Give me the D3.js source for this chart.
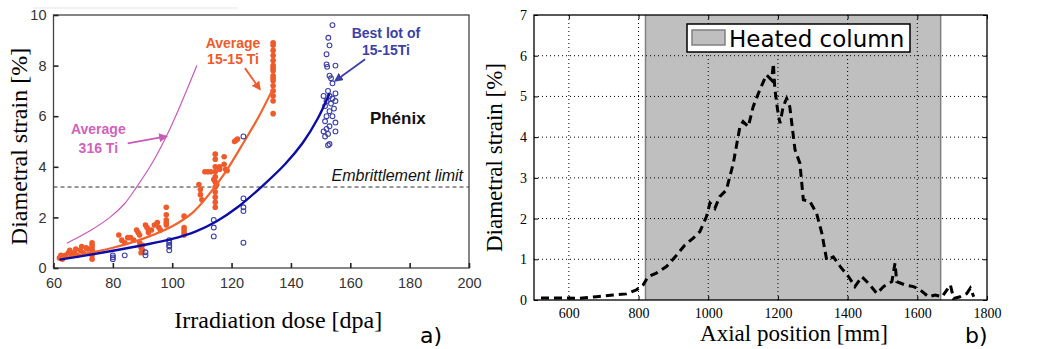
<html>
<head>
<script src="https://d3js.org/d3.v7.min.js"></script>
<style>
body { margin:0; background:#fff; }
</style>
</head>
<body>
<svg id="fig" width="1046" height="349"></svg>
<script>
/// ---- panel a) data ----
var doseTicks = [60, 80, 100, 120, 140, 160, 180, 200];
var strainTicksA = [0, 2, 4, 6, 8, 10];

var avg316 = [[64.5, 0.98], [72, 1.45], [79, 2.0], [84, 2.55], [88, 3.2], [93, 4.1], [98, 5.2], [103, 6.5], [108.3, 8.0]];
var avg1515 = [[62, 0.38], [70, 0.55], [80, 0.8], [90, 1.15], [100, 1.65], [107, 2.2], [113, 3.0], [118, 3.8], [124, 4.95], [129, 5.95], [134, 7.1]];
var best1515 = [[62, 0.33], [70, 0.48], [80, 0.68], [90, 0.9], [100, 1.15], [108, 1.45], [115, 1.85], [122, 2.4], [130, 3.2], [138, 4.1], [144, 4.95], [149, 5.9], [153, 6.9]];
var embrittlement = 3.2;

var orangeDots = [
 [62,0.4],[62.5,0.5],[63,0.35],[64,0.5],[65,0.6],[65.5,0.7],[66,0.55],[67,0.6],[67.5,0.75],[68,0.5],
 [69,0.7],[69.5,0.85],[70,0.6],[71,0.8],[71.5,0.75],[73,1.0],[73,0.9],[73,0.7],[73,0.5],[73,0.35],[73,0.8],
 [82,1.3],[83,1.1],[84,1.0],[85,1.2],[86,1.2],[87,1.1],[88,1.5],[88.5,1.4],[89,1.3],[89,1.0],[89.5,0.8],
 [89.5,0.6],[90,0.7],[90,0.9],[91,1.7],[91.5,1.6],[92,1.5],[92,1.4],[93,1.5],[94,1.7],[95,1.8],[95.5,1.6],
 [96,1.5],[98,2.4],[98,2.1],[98,1.9],[98,1.8],[98,1.7],[104,2.05],[104,1.6],[104,1.5],[104,1.4],[104,1.3],
 [109,3.3],[109.5,3.1],[109.5,2.9],[110,2.7],[111,3.8],[112,3.8],[113,3.8],[114.5,4.5],[114.5,4.3],
 [114.5,4.0],[114.5,3.8],[114.5,3.6],[114.5,3.4],[114.5,3.2],[114.5,3.0],[114.5,2.8],[114.5,2.6],
 [114.5,2.4],[114,3.5],[115,3.3],[116,4.0],[116,3.9],[117.5,4.4],[117.5,4.1],[118,3.9],[118.5,3.85],
 [121,5.0],[121.5,5.05],[122,5.1],
 [134,8.9],[134,8.8],[134,8.6],[134,8.4],[134,8.2],[134,8.0],[134,7.9],[134,7.8],[134,7.6],[134,7.5],
 [134,7.4],[134,7.2],[134,7.0],[134,6.8],[134,6.6],[134,6.1]
];
var blueCircles = [
 [80,0.35],[80,0.5],[80,0.42],[84,0.5],[91,0.5],[91,0.62],[99,0.7],[99,0.85],[99,1.0],[99,1.1],[99,0.9],
 [114,1.9],[114,1.6],[114,1.25],[124,5.2],[124,2.75],[124,2.4],[124,2.25],[124,1.0],
 [154,9.6],[152.6,9.1],[153,8.8],[152,8.45],[152,8.05],[152.2,7.95],[155,8.0],[153,7.6],[153.5,7.5],
 [154,7.3],[152.5,7.0],[153,6.8],[154,6.7],[152,6.6],[155,6.6],[153.5,6.5],[151.5,6.4],[154.5,6.3],
 [153,6.2],[152,6.0],[155,5.75],[151.5,5.8],[153,5.6],[152,5.5],[151,5.4],[155,5.4],[152.5,5.3],
 [151.5,5.2],[153,4.9],[152.5,4.85],[154,6.0],[151,6.8],[155,6.9]
];

/// ---- panel b) data ----
var axialTicks = [600, 800, 1000, 1200, 1400, 1600, 1800];
var strainTicksB = [0, 1, 2, 3, 4, 5, 6, 7];
var heatedColumn = [820, 1667];
var profile = [
 [520,0.05],[583,0.05],[631,0.04],[679,0.08],[727,0.12],[765,0.15],[794,0.25],[813,0.37],[827,0.57],
 [851,0.66],[880,0.82],[909,1.1],[933,1.35],[957,1.52],[976,1.68],[995,2.05],[1005,2.38],[1019,2.25],
 [1033,2.54],[1052,2.7],[1072,3.36],[1091,4.26],[1100,4.38],[1115,4.26],[1129,4.75],[1148,5.16],
 [1167,5.53],[1182,5.4],[1187,5.81],[1191,5.2],[1199,4.67],[1206,4.34],[1215,4.75],[1225,4.95],
 [1234,4.75],[1249,3.69],[1263,3.36],[1273,2.46],[1292,2.42],[1311,2.13],[1326,1.64],[1340,0.98],
 [1359,1.06],[1379,0.82],[1403,0.57],[1421,0.33],[1441,0.57],[1460,0.41],[1484,0.16],[1503,0.33],
 [1527,0.45],[1536,0.9],[1541,0.45],[1565,0.37],[1589,0.33],[1608,0.25],[1632,0.08],[1651,0.12],
 [1671,0.08],[1685,0.25],[1695,0.37],[1704,0.04],[1723,0.08],[1742,0.16],[1752,0.29],[1762,0.08]
];

var svg = d3.select("#fig");
var sans = "'Liberation Sans', Arial, sans-serif";
var serif = "'Liberation Serif', 'Times New Roman', serif";

/// ================= PANEL A =================
var xa = d3.scaleLinear().domain([60, 200]).range([53.5, 469]);
var ya = d3.scaleLinear().domain([0, 10]).range([268, 15]);
var ga = svg.append("g");

// faint crop line at top
ga.append("line").attr("x1", 33).attr("x2", 238).attr("y1", 8).attr("y2", 8)
  .attr("stroke", "#eee").attr("stroke-width", 1.5);

// embrittlement limit
ga.append("line")
  .attr("x1", xa(60)).attr("x2", xa(200))
  .attr("y1", ya(embrittlement)).attr("y2", ya(embrittlement))
  .attr("stroke", "#333").attr("stroke-width", 1).attr("stroke-dasharray", "4,3");

var lineA = d3.line().x(d => xa(d[0])).y(d => ya(d[1])).curve(d3.curveCatmullRom);

ga.append("path").datum(avg316).attr("d", lineA)
  .attr("fill", "none").attr("stroke", "#c95bb8").attr("stroke-width", 1.2);

ga.selectAll("circle.or").data(orangeDots).enter().append("circle")
  .attr("class", "or")
  .attr("cx", d => xa(d[0])).attr("cy", d => ya(d[1])).attr("r", 2.8)
  .attr("fill", "#ef5a2a");

ga.append("path").datum(avg1515).attr("d", lineA)
  .attr("fill", "none").attr("stroke", "#f2622c").attr("stroke-width", 2.2);

ga.selectAll("circle.bl").data(blueCircles).enter().append("circle")
  .attr("class", "bl")
  .attr("cx", d => xa(d[0])).attr("cy", d => ya(d[1])).attr("r", 2.4)
  .attr("fill", "none").attr("stroke", "#3d3fa6").attr("stroke-width", 1.1);

ga.append("path").datum(best1515).attr("d", lineA)
  .attr("fill", "none").attr("stroke", "#0c0ca6").attr("stroke-width", 2.4);

// frame and axes
ga.append("rect").attr("x", xa(60)).attr("y", ya(10))
  .attr("width", xa(200) - xa(60)).attr("height", ya(0) - ya(10))
  .attr("fill", "none").attr("stroke", "#444").attr("stroke-width", 1.3);

var axA = ga.append("g").attr("transform", "translate(0," + ya(0) + ")")
  .call(d3.axisBottom(xa).tickValues(doseTicks).tickSizeInner(-5).tickSizeOuter(0).tickPadding(10));
var ayA = ga.append("g").attr("transform", "translate(" + xa(60) + ",0)")
  .call(d3.axisLeft(ya).tickValues(strainTicksA).tickSizeInner(-5).tickSizeOuter(0).tickPadding(7));
[axA, ayA].forEach(function(a) {
  a.select(".domain").remove();
  a.selectAll("line").attr("stroke", "#222").attr("stroke-width", 1.6);
  a.selectAll("text").style("font-family", sans).style("font-size", "14.5px").attr("fill", "#333");
});

// arrows
var defs = svg.append("defs");
function marker(id, col) {
  defs.append("marker").attr("id", id).attr("viewBox", "0 0 10 10")
    .attr("refX", 8).attr("refY", 5).attr("markerWidth", 5).attr("markerHeight", 5)
    .attr("orient", "auto")
    .append("path").attr("d", "M0,0 L10,5 L0,10 z").attr("fill", col);
}
marker("arO", "#ef5a2a"); marker("arM", "#c95bb8"); marker("arB", "#3d3fa6");
function arrow(p0, p1, col, id) {
  ga.append("line").attr("x1", xa(p0[0])).attr("y1", ya(p0[1]))
    .attr("x2", xa(p1[0])).attr("y2", ya(p1[1]))
    .attr("stroke", col).attr("stroke-width", 1.8).attr("marker-end", "url(#" + id + ")");
}
arrow([124.5, 7.9], [129.5, 7.07], "#ef5a2a", "arO");
arrow([85, 4.93], [98, 5.2], "#c95bb8", "arM");
arrow([165, 8.25], [155, 7.4], "#3d3fa6", "arB");

function label(x, y, txt, col, size, weight, style, anchor) {
  ga.append("text").attr("x", xa(x)).attr("y", ya(y))
    .attr("text-anchor", anchor || "middle")
    .style("font-family", sans).style("font-size", size + "px")
    .style("font-weight", weight || "bold").style("font-style", style || "normal")
    .attr("fill", col).text(txt);
}
label(120.5, 8.68, "Average", "#ef5a2a", 14);
label(120.5, 8.05, "15-15 Ti", "#ef5a2a", 14);
label(75.1, 5.3, "Average", "#d062bd", 14);
label(75.1, 4.55, "316 Ti", "#d062bd", 14);
label(172, 9.08, "Best lot of", "#3d3fa6", 14);
label(172, 8.42, "15-15Ti", "#3d3fa6", 14);
label(176, 5.7, "Phénix", "#111", 17);
label(198, 3.42, "Embrittlement limit", "#111", 16, "normal", "italic", "end");

ga.append("text").attr("transform", "translate(27," + ((ya(0) + ya(10)) / 2 + 5) + ") rotate(-90)")
  .attr("text-anchor", "middle").style("font-family", serif).style("font-size", "24px")
  .text("Diametral strain [%]");
ga.append("text").attr("x", (xa(60) + xa(200)) / 2 + 17).attr("y", 328)
  .attr("text-anchor", "middle").style("font-family", serif).style("font-size", "24px")
  .text("Irradiation dose [dpa]");
ga.append("text").attr("x", 420).attr("y", 343)
  .style("font-family", "'DejaVu Sans', sans-serif").style("font-size", "22px").text("a)");

/// ================= PANEL B =================
var xb = d3.scaleLinear().domain([500, 1800]).range([534, 987]);
var yb = d3.scaleLinear().domain([0, 7]).range([300, 15]);
var gb = svg.append("g");

gb.append("rect").attr("x", xb(heatedColumn[0])).attr("y", yb(7))
  .attr("width", xb(heatedColumn[1]) - xb(heatedColumn[0])).attr("height", yb(0) - yb(7))
  .attr("fill", "#bfbfbf");
heatedColumn.forEach(function(v) {
  gb.append("line").attr("x1", xb(v)).attr("x2", xb(v)).attr("y1", yb(7)).attr("y2", yb(0))
    .attr("stroke", "#808080").attr("stroke-width", 1.5);
});

// grid
gb.selectAll("line.gx").data(axialTicks.slice(0, -1)).enter().append("line")
  .attr("x1", d => xb(d)).attr("x2", d => xb(d)).attr("y1", yb(7)).attr("y2", yb(0))
  .attr("stroke", "#000").attr("stroke-width", 1).attr("stroke-dasharray", "1,3");
gb.selectAll("line.gy").data(strainTicksB.slice(1, -1)).enter().append("line")
  .attr("y1", d => yb(d)).attr("y2", d => yb(d)).attr("x1", xb(500)).attr("x2", xb(1800))
  .attr("stroke", "#000").attr("stroke-width", 1).attr("stroke-dasharray", "1,3");

var lineB = d3.line().x(d => xb(d[0])).y(d => yb(d[1]));
gb.append("path").datum(profile).attr("d", lineB)
  .attr("fill", "none").attr("stroke", "#000").attr("stroke-width", 3)
  .attr("stroke-dasharray", "8,5");

gb.append("rect").attr("x", xb(500)).attr("y", yb(7))
  .attr("width", xb(1800) - xb(500)).attr("height", yb(0) - yb(7))
  .attr("fill", "none").attr("stroke", "#000").attr("stroke-width", 1.3);

var fmt = d3.format("d");
var axB = gb.append("g").attr("transform", "translate(0," + yb(0) + ")")
  .call(d3.axisBottom(xb).tickValues(axialTicks).tickFormat(fmt).tickSizeInner(-4).tickSizeOuter(0).tickPadding(8));
var axBt = gb.append("g").attr("transform", "translate(0," + yb(7) + ")")
  .call(d3.axisTop(xb).tickValues(axialTicks).tickSizeInner(-4).tickSizeOuter(0).tickFormat(""));
var ayB = gb.append("g").attr("transform", "translate(" + xb(500) + ",0)")
  .call(d3.axisLeft(yb).tickValues(strainTicksB).tickFormat(fmt).tickSizeInner(-4).tickSizeOuter(0).tickPadding(7));
var ayBr = gb.append("g").attr("transform", "translate(" + xb(1800) + ",0)")
  .call(d3.axisRight(yb).tickValues(strainTicksB).tickSizeInner(-4).tickSizeOuter(0).tickFormat(""));
[axB, axBt, ayB, ayBr].forEach(function(a) {
  a.select(".domain").remove();
  a.selectAll("line").attr("stroke", "#000");
  a.selectAll("text").style("font-family", serif).style("font-size", "14px").attr("fill", "#000");
});

// legend
gb.append("rect").attr("x", 687).attr("y", 24).attr("width", 223).attr("height", 28)
  .attr("fill", "#fff").attr("stroke", "#000").attr("stroke-width", 1.5);
gb.append("rect").attr("x", 692).attr("y", 30).attr("width", 33).attr("height", 15)
  .attr("fill", "#bfbfbf").attr("stroke", "#808080").attr("stroke-width", 1.5);
gb.append("text").attr("x", 729).attr("y", 46.5)
  .style("font-family", "'DejaVu Sans', sans-serif").style("font-size", "23px").text("Heated column");

gb.append("text").attr("transform", "translate(502," + ((yb(0) + yb(7)) / 2) + ") rotate(-90)")
  .attr("text-anchor", "middle").style("font-family", serif).style("font-size", "23px")
  .text("Diametral strain [%]");
gb.append("text").attr("x", 794).attr("y", 341)
  .attr("text-anchor", "middle").style("font-family", serif).style("font-size", "23px")
  .text("Axial position [mm]");
gb.append("text").attr("x", 965).attr("y", 343)
  .style("font-family", "'DejaVu Sans', sans-serif").style("font-size", "22px").text("b)");
</script>
</body>
</html>
